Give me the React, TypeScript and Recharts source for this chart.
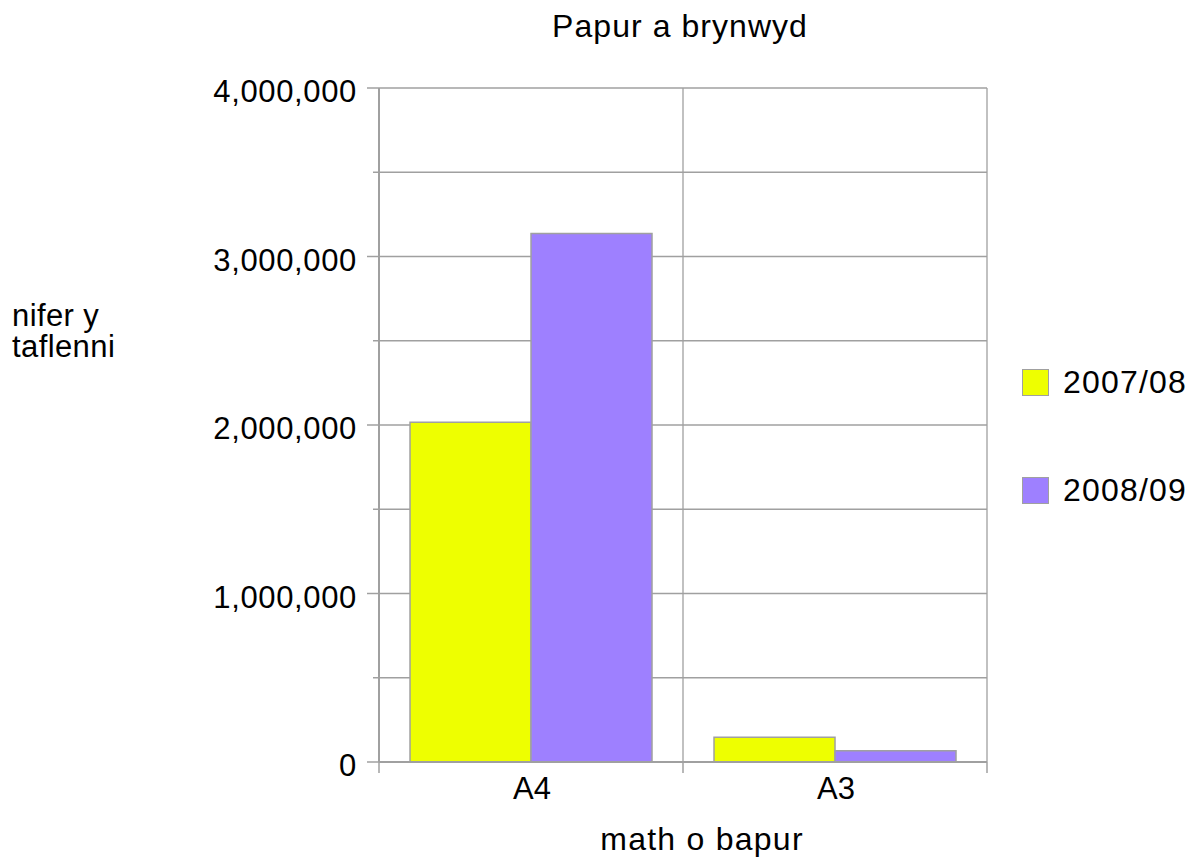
import React from "react";
import { Bar, BarChart, CartesianGrid, Legend, XAxis, YAxis } from "recharts";

const paperTypes = ["A4", "A3"];
const sheets0708 = [2017000, 147000];
const sheets0809 = [3136000, 67000];
const yTicks = [0, 500000, 1000000, 1500000, 2000000, 2500000, 3000000, 3500000, 4000000];

const seriesNames = ["2007/08", "2008/09"];
const seriesColors = ["#eeff00", "#9e80ff"];

const rows = paperTypes.map((name, i) => ({
  name,
  s0708: sheets0708[i],
  s0809: sheets0809[i],
}));

const FONT = "'Liberation Sans', Arial, sans-serif";
const FS = 31;
const GRAY = "#a0a0a0";

const W = 1195;
const H = 858;
const PLOT_LEFT = 379;
const PLOT_RIGHT = 987;

function YTick(props: any) {
  const { x, y, payload } = props;
  const major = payload.value % 1000000 === 0;
  return (
    <g>
      <line x1={x - (major ? 12 : 6)} x2={x} y1={y} y2={y} stroke={GRAY} strokeWidth={1.5} />
      {major && (
        <text
          x={x - 22}
          y={y}
          dy={14}
          textAnchor="end"
          fontFamily={FONT}
          fontSize={FS}
          letterSpacing={0.65}
          fill="#000"
        >
          {payload.value.toLocaleString("en-US")}
        </text>
      )}
    </g>
  );
}

function XTick(props: any) {
  const { x, y, payload, index, visibleTicksCount } = props;
  const half = payload.offset || (PLOT_RIGHT - PLOT_LEFT) / paperTypes.length / 2;
  const last = index === (visibleTicksCount ?? paperTypes.length) - 1;
  return (
    <g>
      <line x1={x - half} x2={x - half} y1={y} y2={y + 11} stroke={GRAY} strokeWidth={1.5} />
      {last && <line x1={x + half} x2={x + half} y1={y} y2={y + 11} stroke={GRAY} strokeWidth={1.5} />}
      <text x={x + 1} y={y} dy={37} textAnchor="middle" fontFamily={FONT} fontSize={FS} fill="#000">
        {payload.value}
      </text>
    </g>
  );
}

function LegendBox(props: any) {
  const { payload } = props;
  return (
    <div style={{ fontFamily: FONT, fontSize: 32, letterSpacing: 1.2 }}>
      {(payload || []).map((p: any) => (
        <div key={p.value} style={{ display: "flex", alignItems: "center", height: 28, marginBottom: 80 }}>
          <span
            style={{
              display: "inline-block",
              width: 25,
              height: 25,
              background: p.color,
              border: `1.5px solid ${GRAY}`,
              marginRight: 14,
            }}
          />
          <span style={{ lineHeight: "28px" }}>{p.value}</span>
        </div>
      ))}
    </div>
  );
}

export default function App() {
  return (
    <div style={{ position: "absolute", left: 0, top: 0, width: W, height: H }}>
      <BarChart
        width={W}
        height={H}
        data={rows}
        margin={{ top: 88, right: W - PLOT_RIGHT, bottom: 0, left: 0 }}
        barCategoryGap="10.2%"
        barGap={0}
      >
        <CartesianGrid
          stroke={GRAY}
          strokeWidth={1.3}
          verticalCoordinatesGenerator={({ offset }: any) => [
            offset.left,
            offset.left + offset.width / 2,
            offset.left + offset.width,
          ]}
        />
        <XAxis
          dataKey="name"
          height={96}
          axisLine={{ stroke: GRAY, strokeWidth: 2 }}
          tickLine={false}
          tickSize={0}
          tickMargin={0}
          tick={<XTick />}
          interval={0}
        />
        <YAxis
          width={PLOT_LEFT}
          domain={[0, 4000000]}
          ticks={yTicks}
          interval={0}
          axisLine={{ stroke: GRAY, strokeWidth: 2 }}
          tickLine={false}
          tickSize={0}
          tickMargin={0}
          tick={<YTick />}
        />
        <Legend
          layout="vertical"
          align="center"
          verticalAlign="middle"
          content={<LegendBox />}
          wrapperStyle={{ left: 1022, top: 368, width: 173, height: 240 }}
        />
        <Bar dataKey="s0708" name={seriesNames[0]} fill={seriesColors[0]} stroke={GRAY} strokeWidth={1.5} isAnimationActive={false} />
        <Bar dataKey="s0809" name={seriesNames[1]} fill={seriesColors[1]} stroke={GRAY} strokeWidth={1.5} isAnimationActive={false} />
      </BarChart>
      <svg width={W} height={H} style={{ position: "absolute", left: 0, top: 0, pointerEvents: "none" }}>
        <text x={680} y={37} textAnchor="middle" fontFamily={FONT} fontSize={32} letterSpacing={1.05}>
          Papur a brynwyd
        </text>
        <text fontFamily={FONT} fontSize={FS} letterSpacing={0.4}>
          <tspan x={12} y={326}>nifer y</tspan>
          <tspan x={12} y={357}>taflenni</tspan>
        </text>
        <text x={702} y={850} textAnchor="middle" fontFamily={FONT} fontSize={32} letterSpacing={1.25}>
          math o bapur
        </text>
      </svg>
    </div>
  );
}
